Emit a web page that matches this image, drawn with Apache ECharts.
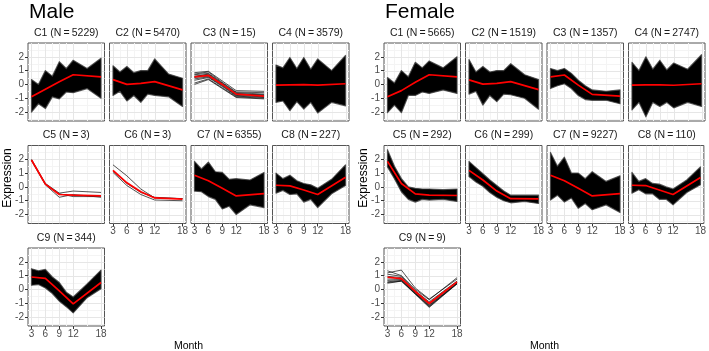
<!DOCTYPE html>
<html><head><meta charset="utf-8">
<script src="https://cdn.jsdelivr.net/npm/echarts@6/dist/echarts.min.js"></script>
<style>html,body{margin:0;padding:0;background:#fff}#c{width:709px;height:351px}</style>
</head><body><div id="c"></div>
<script>
// ---- data ----
const months = [3, 6, 9, 12, 18];
const envX = [3, 4.5, 6, 7.5, 9, 10.5, 12, 15, 18];
const xTicks = [3, 6, 9, 12, 18];
const xMinor = [4.5, 7.5, 10.5, 15];
const yTicks = [-2, -1, 0, 1, 2];
const yMinor = [-2.5, -1.5, -0.5, 0.5, 1.5, 2.5];
const sexes = ['Male', 'Female'];
const clusters = ['C1', 'C2', 'C3', 'C4', 'C5', 'C6', 'C7', 'C8', 'C9'];
const maleN = [5229, 5470, 15, 3579, 3, 3, 6355, 227, 344];
const femaleN = [5665, 1519, 1357, 2747, 292, 299, 9227, 110, 9];

const maleMean = [
  [-0.9, -0.35, 0.2, 0.7, 0.55],
  [0.35, 0.0, 0.07, 0.2, -0.4],
  [0.55, 0.65, 0.0, -0.7, -0.85],
  [-0.05, -0.03, -0.02, -0.05, 0.05],
  [1.95, 0.2, -0.55, -0.6, -0.65],
  [1.2, 0.3, -0.35, -0.8, -0.88],
  [0.85, 0.45, -0.1, -0.65, -0.48],
  [0.12, 0.08, -0.22, -0.55, 0.7],
  [0.9, 0.8, -0.1, -1.05, 0.5]
];
const maleUpper = [
  [0.35, 0.0, 1.0, 0.6, 1.65, 1.15, 1.75, 1.15, 1.9],
  [1.35, 0.9, 1.3, 0.85, 1.0, 1.0, 1.85, 0.75, 0.45],
  null,
  [1.4, 1.2, 1.95, 1.15, 1.95, 1.1, 1.85, 1.0, 2.1],
  null,
  null,
  [1.85, 1.3, 1.8, 1.1, 1.05, 0.55, 0.6, 0.5, 1.05],
  [1.0, 0.6, 0.85, 0.45, 0.25, 0.15, -0.1, 0.55, 1.6],
  [1.5, 1.35, 1.45, 0.9, 0.5, -0.2, -0.55, 0.4, 1.4]
];
const maleLower = [
  [-2.0, -1.4, -1.75, -0.9, -1.05, -0.55, -0.6, -0.3, -1.0],
  [-0.8, -0.5, -1.2, -0.8, -1.3, -0.7, -0.8, -0.9, -1.6],
  null,
  [-1.3, -1.2, -1.9, -1.25, -1.78, -1.3, -2.07, -1.3, -1.55],
  null,
  null,
  [-0.3, -0.35, -0.7, -0.9, -1.6, -1.4, -2.0, -1.3, -1.5],
  [-0.45, -0.25, -0.55, -0.5, -1.1, -0.9, -1.5, -0.5, 0.1],
  [0.3, 0.35, 0.1, -0.3, -0.85, -1.25, -1.7, -0.6, 0.05]
];
const maleGenes = [
  null, null,
  [
    [0.85, 0.95, 0.25, -0.45, -0.5],
    [0.75, 0.9, 0.15, -0.55, -0.6],
    [0.7, 0.8, 0.1, -0.6, -0.7],
    [0.6, 0.7, 0.0, -0.65, -0.8],
    [0.5, 0.6, -0.05, -0.75, -0.85],
    [0.4, 0.55, -0.1, -0.8, -0.9],
    [0.3, 0.5, -0.15, -0.85, -0.95],
    [0.1, 0.4, -0.25, -0.9, -1.0],
    [0.0, 0.35, -0.3, -0.95, -1.05],
    [0.55, 0.75, 0.05, -0.7, -0.75]
  ],
  null,
  [
    [2.0, 0.25, -0.45, -0.3, -0.4],
    [1.9, 0.15, -0.75, -0.55, -0.75],
    [1.95, 0.2, -0.5, -0.7, -0.7]
  ],
  [
    [1.6, 0.8, -0.15, -0.8, -0.85],
    [1.15, 0.25, -0.4, -0.75, -0.85],
    [1.05, 0.1, -0.55, -0.95, -1.0]
  ],
  null, null, null
];

const femaleMean = [
  [-0.9, -0.45, 0.15, 0.7, 0.55],
  [0.33, 0.02, 0.08, 0.2, -0.38],
  [0.55, 0.68, -0.05, -0.72, -0.85],
  [-0.05, -0.04, -0.03, -0.06, 0.05],
  [1.85, 0.25, -0.5, -0.6, -0.62],
  [1.2, 0.5, -0.3, -0.85, -0.87],
  [0.85, 0.45, -0.1, -0.65, -0.48],
  [0.12, 0.1, -0.22, -0.55, 0.68],
  [0.88, 0.78, -0.15, -1.02, 0.55]
];
const femaleUpper = [
  [0.5, 0.1, 1.0, 0.55, 1.6, 1.2, 1.7, 1.2, 2.0],
  [1.8, 0.9, 1.3, 0.9, 1.0, 1.0, 1.5, 0.7, 0.35],
  [1.15, 1.0, 1.15, 0.8, 0.3, -0.1, -0.4, -0.5, -0.4],
  [1.6, 1.0, 2.0, 1.1, 1.75, 1.05, 1.55, 1.1, 2.15],
  [2.7, 1.5, 0.6, 0.0, -0.1, -0.15, -0.15, -0.2, -0.15],
  [1.85, 1.4, 0.95, 0.5, 0.1, -0.3, -0.6, -0.6, -0.6],
  [2.5, 1.5, 2.15, 1.0, 1.0, 0.6, 1.1, 0.4, 0.8],
  [1.05, 0.4, 0.6, 0.25, 0.2, 0.0, -0.15, 0.5, 1.45],
  null
];
const femaleLower = [
  [-2.05, -1.5, -2.05, -0.8, -0.8, -0.55, -0.65, -0.4, -0.65],
  [-0.7, -0.5, -1.5, -0.8, -1.25, -0.7, -0.75, -1.0, -1.8],
  [-0.3, -0.1, 0.05, -0.3, -0.8, -1.1, -1.15, -1.15, -1.4],
  [-1.85, -1.3, -2.35, -1.3, -1.6, -1.3, -1.7, -1.3, -1.6],
  [1.45, 0.6, -0.35, -0.9, -1.1, -0.9, -0.95, -0.9, -1.05],
  [0.75, 0.35, 0.05, -0.4, -0.75, -1.0, -1.15, -1.05, -1.2],
  [-0.95, -0.6, -1.1, -0.8, -1.55, -1.2, -1.65, -1.3, -1.85],
  [-0.45, -0.2, -0.5, -0.5, -0.9, -0.9, -1.3, -0.4, 0.15],
  null
];
const femaleGenes = [
  null, null, null, null, null, null, null, null,
  [
    [1.35, 1.0, 0.0, -0.75, 0.85],
    [1.2, 1.4, 0.1, -0.7, 0.75],
    [1.1, 0.95, -0.1, -0.9, 0.6],
    [0.95, 0.85, -0.15, -1.0, 0.55],
    [0.75, 0.75, -0.2, -1.1, 0.5],
    [0.65, 0.7, -0.25, -1.15, 0.45],
    [0.55, 0.65, -0.3, -1.2, 0.4],
    [0.5, 0.6, -0.35, -1.3, 0.4],
    [0.45, 0.6, -0.3, -1.25, 0.45]
  ]
];

// ---- layout ----
const FONT = '"Liberation Sans", Arial, sans-serif';
const blockLeft = [28, 384];
const panelW = 76.5, panelGap = 5;
const rowTop = [43, 145.5, 248];
const panelH = 78;
const X_MIN = 2.25, X_MAX = 18.75, Y_MIN = -2.65, Y_MAX = 3.0;

const grids = [], xAxes = [], yAxes = [], series = [], graphics = [];
const data = [
  {mean: maleMean, up: maleUpper, lo: maleLower, genes: maleGenes, n: maleN},
  {mean: femaleMean, up: femaleUpper, lo: femaleLower, genes: femaleGenes, n: femaleN}
];

function gridRender(params, api) {
  const ch = [];
  const vline = (x, c, w) => {
    const a = api.coord([x, Y_MIN]), b = api.coord([x, Y_MAX]);
    const xx = Math.round(a[0]) + 0.5;
    ch.push({type: 'line', shape: {x1: xx, y1: a[1], x2: xx, y2: b[1]}, style: {stroke: c, lineWidth: w}});
  };
  const hline = (y, c, w) => {
    const a = api.coord([X_MIN, y]), b = api.coord([X_MAX, y]);
    const yy = Math.round(a[1]) + 0.5;
    ch.push({type: 'line', shape: {x1: a[0], y1: yy, x2: b[0], y2: yy}, style: {stroke: c, lineWidth: w}});
  };
  xMinor.forEach(x => vline(x, '#f4f4f4', 1));
  yMinor.forEach(y => hline(y, '#f4f4f4', 1));
  xTicks.forEach(x => vline(x, '#e6e6e6', 1));
  yTicks.forEach(y => hline(y, '#e6e6e6', 1));
  return {type: 'group', children: ch};
}

function bandRender(up, lo) {
  return function (params, api) {
    const pts = [];
    for (let k = 0; k < envX.length; k++) pts.push(api.coord([envX[k], up[k]]));
    for (let k = envX.length - 1; k >= 0; k--) pts.push(api.coord([envX[k], lo[k]]));
    return {type: 'polygon', shape: {points: pts},
      style: {fill: '#000', stroke: 'rgba(60,60,60,0.8)', lineWidth: 1.2, lineJoin: 'round'}};
  };
}

let gi = 0;
for (let s = 0; s < 2; s++) {
  const d = data[s];
  graphics.push({type: 'text', left: blockLeft[s] + 1, top: 2,
    style: {text: sexes[s], font: '21px ' + FONT, fill: '#000'}});
  graphics.push({type: 'text', x: blockLeft[s] - 20, y: 178, rotation: Math.PI / 2,
    style: {text: 'Expression', font: '12px ' + FONT, fill: '#000', align: 'center', verticalAlign: 'middle'}});
  graphics.push({type: 'text', x: blockLeft[s] + (4 * panelW + 3 * panelGap) / 2, y: 346,
    style: {text: 'Month', font: '10.5px ' + FONT, fill: '#000', align: 'center', verticalAlign: 'middle'}});
  for (let i = 0; i < 9; i++) {
    const row = Math.floor(i / 4), col = i % 4;
    const left = blockLeft[s] + col * (panelW + panelGap);
    const top = rowTop[row];
    const showX = (i >= 5);
    const showY = (col === 0);
    grids.push({left: left, top: top, width: panelW, height: panelH, show: true,
      borderColor: '#555', borderWidth: 1, backgroundColor: '#fff', containLabel: false});
    xAxes.push({gridIndex: gi, type: 'value', min: X_MIN, max: X_MAX, position: 'bottom',
      axisLine: {show: false, onZero: false}, splitLine: {show: false},
      axisTick: {show: showX, length: 3, lineStyle: {color: '#333'}, customValues: xTicks},
      axisLabel: {show: showX, margin: 3, color: '#4d4d4d', fontSize: 10, fontFamily: FONT, customValues: xTicks}});
    yAxes.push({gridIndex: gi, type: 'value', min: Y_MIN, max: Y_MAX, position: 'left',
      axisLine: {show: false, onZero: false}, splitLine: {show: false},
      axisTick: {show: showY, length: 3, lineStyle: {color: '#333'}, customValues: yTicks},
      axisLabel: {show: showY, margin: 4, color: '#4d4d4d', fontSize: 10, fontFamily: FONT, customValues: yTicks}});
    graphics.push({type: 'text', x: left + panelW / 2, y: top - 10,
      style: {text: clusters[i] + ' (N\u2009=\u2009' + d.n[i] + ')', font: '10.5px ' + FONT, fill: '#1a1a1a', align: 'center', verticalAlign: 'middle'}});
    series.push({type: 'custom', xAxisIndex: gi, yAxisIndex: gi, data: [[X_MIN, Y_MIN]],
      renderItem: gridRender, silent: true, z: 1, clip: true});
    if (d.up[i]) {
      series.push({type: 'custom', xAxisIndex: gi, yAxisIndex: gi, data: [[X_MIN, Y_MIN]],
        renderItem: bandRender(d.up[i], d.lo[i]), silent: true, z: 2, clip: true});
    }
    if (d.genes[i]) {
      d.genes[i].forEach(g => {
        series.push({type: 'line', xAxisIndex: gi, yAxisIndex: gi, symbol: 'none', showSymbol: false, silent: true, z: 3,
          data: months.map((m, k) => [m, g[k]]),
          lineStyle: {color: 'rgba(0,0,0,0.75)', width: 0.9}});
      });
    }
    series.push({type: 'line', xAxisIndex: gi, yAxisIndex: gi, symbol: 'none', showSymbol: false, silent: true, z: 4,
      data: months.map((m, k) => [m, d.mean[i][k]]),
      lineStyle: {color: '#ff0000', width: 1.7}});
    gi++;
  }
}

const chart = echarts.init(document.getElementById('c'), null, {renderer: 'canvas'});
chart.setOption({
  animation: false,
  backgroundColor: '#fff',
  grid: grids, xAxis: xAxes, yAxis: yAxes, series: series, graphic: graphics
});
</script></body></html>
